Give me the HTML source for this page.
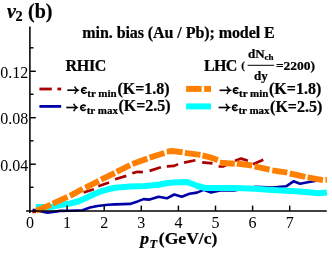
<!DOCTYPE html>
<html><head><meta charset="utf-8">
<style>
html,body{margin:0;padding:0;background:#fff;}
body{width:332px;height:253px;overflow:hidden;font-family:"Liberation Serif",serif;}
svg{display:block;position:absolute;left:0;top:0;will-change:transform;}
text{font-family:"Liberation Serif",serif;fill:#000;}
.b{font-weight:bold;stroke:#000;stroke-width:0.22px;}
</style></head><body>
<svg width="332" height="253" viewBox="0 0 332 253">
<rect width="332" height="253" fill="#fff"/>
<!-- curves -->
<g fill="none" stroke-linejoin="round">
<polyline stroke="#0000a8" stroke-width="2.6" points="32.5,209.9 40.0,211.3 47.6,212.6 55.0,211.7 60.0,210.9 70.0,210.7 82.5,210.2 90.0,207.5 97.5,206.0 108.0,204.8 115.0,204.4 130.0,203.9 137.6,201.4 143.6,199.1 149.6,199.6 158.7,196.8 166.8,198.3 174.3,194.5 181.8,196.7 189.4,193.8 196.9,192.6 203.7,189.9 211.0,192.5 220.0,190.5 234.0,190.5 256.0,186.8 272.6,187.5 286.1,186.3 293.5,181.3 300.0,183.8 307.6,182.3 313.6,181.3 321.0,179.8"/>
<g stroke="#a80000" stroke-width="2.7">
<polyline points="32.3,212.0 36.0,211.6"/>
<polyline points="83.6,192.5 93.9,189.3"/>
<polyline points="98.3,186.2 109.0,182.5"/>
<polyline points="115.1,179.2 126.3,175.9"/>
<polyline points="132.3,173.3 137.6,171.8 142.9,172.1"/>
<polyline points="149.6,170.9 160.9,167.3"/>
<polyline points="166.8,166.4 174.3,165.9 178.1,164.1"/>
<polyline points="184.1,162.6 195.4,160.3"/>
<polyline points="202.2,162.3 212.5,163.4"/>
<polyline points="218.6,166.3 223.0,166.5 230.0,163.0"/>
<polyline points="235.1,160.8 241.1,158.6 247.9,160.8"/>
<polyline points="253.0,164.3 263.3,159.8"/>
</g>
<polyline stroke="#00ffff" stroke-width="6" points="35.8,207.0 50.6,207.0 60.0,205.0 70.0,203.5 78.0,201.5 85.0,198.5 92.0,195.0 100.0,191.7 108.0,189.3 115.0,187.8 130.0,186.5 145.0,185.9 152.6,185.3 160.0,184.5 167.5,183.0 178.1,182.3 187.1,182.0 197.7,186.0 205.2,188.0 220.0,187.9 235.0,188.1 255.0,188.8 272.0,189.9 282.0,190.6 300.0,191.5 318.1,193.3 326.9,192.4"/>
<g stroke="#ff8000" stroke-width="5.9">
<polyline points="36.3,210.8 50.9,204.6"/>
<polyline points="52.8,203.7 67.5,196.8"/>
<polyline points="70.0,195.9 82.8,188.8"/>
<polyline points="85.4,187.6 98.9,181.0"/>
<polyline points="101.0,179.7 114.8,173.0"/>
<polyline points="116.6,171.8 130.1,165.2"/>
<polyline points="132.3,164.0 147.4,158.6"/>
<polyline points="149.6,157.6 164.4,153.0"/>
<polyline points="166.8,151.6 172.0,151.0 182.6,152.2"/>
<polyline points="184.8,152.8 200.4,154.9"/>
<polyline points="202.5,155.4 210.0,157.3 217.8,160.1"/>
<polyline points="219.8,162.7 234.8,163.8"/>
<polyline points="236.9,163.5 252.2,165.5"/>
<polyline points="254.5,166.3 269.6,169.6"/>
<polyline points="272.3,170.3 287.3,172.6"/>
<polyline points="289.8,173.5 305.3,176.8"/>
<polyline points="307.6,177.4 323.0,180.1"/>
<polyline points="325.4,179.9 326.9,179.8"/>
</g>
</g>
<!-- axes -->
<g stroke="#000" stroke-width="1.55" fill="none">
<line x1="29.9" y1="26.5" x2="29.9" y2="212.9"/>
<line x1="26.1" y1="210.9" x2="326.8" y2="210.9"/>
</g>
<g stroke="#000" stroke-width="1.45" fill="none">
<!-- y major -->
<line x1="30" y1="164.2" x2="35.8" y2="164.2"/>
<line x1="30" y1="117.7" x2="35.8" y2="117.7"/>
<line x1="30" y1="71.3" x2="35.8" y2="71.3"/>
<!-- y minor -->
<line x1="30" y1="187.3" x2="33.5" y2="187.3"/>
<line x1="30" y1="140.8" x2="33.5" y2="140.8"/>
<line x1="30" y1="94.3" x2="33.5" y2="94.3"/>
<line x1="30" y1="47.8" x2="33.5" y2="47.8"/>
<!-- x major -->
<line x1="67.1" y1="210.9" x2="67.1" y2="205.6"/>
<line x1="104.2" y1="210.9" x2="104.2" y2="205.6"/>
<line x1="141.3" y1="210.9" x2="141.3" y2="205.6"/>
<line x1="178.4" y1="210.9" x2="178.4" y2="205.6"/>
<line x1="215.5" y1="210.9" x2="215.5" y2="205.6"/>
<line x1="252.6" y1="210.9" x2="252.6" y2="205.6"/>
<line x1="289.7" y1="210.9" x2="289.7" y2="205.6"/>
</g>
<!-- tick labels -->
<g font-size="16" text-anchor="middle">
<text x="30.0" y="227.6">0</text>
<text x="67.1" y="227.6">1</text>
<text x="104.2" y="227.6">2</text>
<text x="141.3" y="227.6">3</text>
<text x="178.4" y="227.6">4</text>
<text x="215.5" y="227.6">5</text>
<text x="252.6" y="227.6">6</text>
<text x="289.7" y="227.6">7</text>
</g>
<g font-size="16" text-anchor="end">
<text x="28.2" y="77.6">0.12</text>
<text x="28.2" y="124.1">0.08</text>
<text x="28.2" y="170.6">0.04</text>
</g>
<!-- title -->
<text x="7" y="18" font-size="20" class="b"><tspan font-style="italic">v</tspan></text>
<text x="15.6" y="21.4" font-size="14.2" class="b">2</text>
<text x="28" y="18" font-size="20" class="b">(b)</text>
<text x="82.3" y="38.2" font-size="16" class="b" textLength="192.4" lengthAdjust="spacing">min. bias (Au / Pb); model E</text>
<text x="65.5" y="71.4" font-size="16" class="b" textLength="40.9" lengthAdjust="spacing">RHIC</text>
<text x="204.1" y="71.1" font-size="16" class="b" textLength="33.3" lengthAdjust="spacing">LHC</text>
<!-- LHC fraction -->
<text x="241.2" y="68.6" font-size="11" class="b">(</text>
<text x="248" y="58" font-size="13" class="b">dN</text>
<text x="264.6" y="60" font-size="9" class="b">ch</text>
<line x1="247.6" y1="65.3" x2="274.1" y2="65.3" stroke="#000" stroke-width="1"/>
<text x="254" y="79.5" font-size="13" class="b">dy</text>
<text x="275.9" y="69.7" font-size="13.5" class="b" textLength="39" lengthAdjust="spacing">=2200)</text>
<!-- legend lines -->
<line x1="39.4" y1="89" x2="51.8" y2="89" stroke="#a80000" stroke-width="2.8"/>
<line x1="57.4" y1="89" x2="61.2" y2="89" stroke="#a80000" stroke-width="2.8"/>
<line x1="39.4" y1="106.4" x2="61.2" y2="106.4" stroke="#0000a8" stroke-width="2.8"/>
<line x1="186.1" y1="88.9" x2="201.6" y2="88.9" stroke="#ff8000" stroke-width="6"/>
<line x1="204.2" y1="88.9" x2="211" y2="88.9" stroke="#ff8000" stroke-width="6"/>
<line x1="186.1" y1="106.4" x2="211" y2="106.4" stroke="#00ffff" stroke-width="6"/>
<!-- legend text -->
<g class="b">
<path d="M67.3,90.2H77.9" stroke="#000" stroke-width="1.65" fill="none"/><path d="M79.2,90.2C77.5,89.7 76.1,88.5 75.2,86.5L74.4,86.9C75.2,88.4 75.8,89.3 76.6,90.2C75.8,91.1 75.2,92.0 74.4,93.5L75.2,93.9C76.1,91.9 77.5,90.7 79.2,90.2Z" fill="#000" stroke="#000" stroke-width="0.6" stroke-linejoin="round"/>
<path d="M86.5,88.8C85.6,87.8 84.1,87.5 82.9,88.2C81.2,89.2 81.2,91.8 82.9,92.7C84.1,93.4 85.6,93.1 86.6,92.0" stroke="#000" stroke-width="1.7" fill="none"/><path d="M82.2,90.4H85.2" stroke="#000" stroke-width="1.3" fill="none"/>
<text x="87.3" y="96.5" font-size="11" textLength="29.4" lengthAdjust="spacing">tr min</text>
<text x="117.4" y="93.5" font-size="16">(K=1.8)</text>
<path d="M66.3,107.5H76.9" stroke="#000" stroke-width="1.65" fill="none"/><path d="M78.2,107.5C76.5,107.0 75.1,105.8 74.2,103.8L73.4,104.2C74.2,105.7 74.8,106.6 75.6,107.5C74.8,108.4 74.2,109.3 73.4,110.8L74.2,111.2C75.1,109.2 76.5,108.0 78.2,107.5Z" fill="#000" stroke="#000" stroke-width="0.6" stroke-linejoin="round"/>
<path d="M85.6,106.1C84.7,105.1 83.2,104.8 82.0,105.5C80.3,106.5 80.3,109.1 82.0,110.0C83.2,110.7 84.7,110.4 85.7,109.3" stroke="#000" stroke-width="1.7" fill="none"/><path d="M81.3,107.7H84.3" stroke="#000" stroke-width="1.3" fill="none"/>
<text x="86.7" y="113.7" font-size="11" textLength="31.2" lengthAdjust="spacing">tr max</text>
<text x="118.4" y="111.1" font-size="16">(K=2.5)</text>
<path d="M219.6,90.3H230.2" stroke="#000" stroke-width="1.65" fill="none"/><path d="M231.5,90.3C229.8,89.8 228.4,88.6 227.5,86.6L226.7,87.0C227.5,88.5 228.1,89.4 228.9,90.3C228.1,91.2 227.5,92.1 226.7,93.6L227.5,94.0C228.4,92.0 229.8,90.8 231.5,90.3Z" fill="#000" stroke="#000" stroke-width="0.6" stroke-linejoin="round"/>
<path d="M238.3,88.9C237.4,87.9 235.9,87.6 234.7,88.3C233.0,89.3 233.0,91.9 234.7,92.8C235.9,93.5 237.4,93.2 238.4,92.1" stroke="#000" stroke-width="1.7" fill="none"/><path d="M234.0,90.5H237.0" stroke="#000" stroke-width="1.3" fill="none"/>
<text x="239.0" y="96.6" font-size="11" textLength="29.4" lengthAdjust="spacing">tr min</text>
<text x="269.0" y="94.4" font-size="16">(K=1.8)</text>
<path d="M218.6,107.5H229.2" stroke="#000" stroke-width="1.65" fill="none"/><path d="M230.5,107.5C228.8,107.0 227.4,105.8 226.5,103.8L225.7,104.2C226.5,105.7 227.1,106.6 227.9,107.5C227.1,108.4 226.5,109.3 225.7,110.8L226.5,111.2C227.4,109.2 228.8,108.0 230.5,107.5Z" fill="#000" stroke="#000" stroke-width="0.6" stroke-linejoin="round"/>
<path d="M237.4,106.1C236.5,105.1 235.0,104.8 233.8,105.5C232.1,106.5 232.1,109.1 233.8,110.0C235.0,110.7 236.5,110.4 237.5,109.3" stroke="#000" stroke-width="1.7" fill="none"/><path d="M233.1,107.7H236.1" stroke="#000" stroke-width="1.3" fill="none"/>
<text x="238.4" y="113.7" font-size="11" textLength="31.2" lengthAdjust="spacing">tr max</text>
<text x="270.1" y="112.0" font-size="16">(K=2.5)</text>
</g>
<!-- x axis label -->
<text x="140.3" y="244.4" font-size="17.6" class="b" font-style="italic">p</text>
<text x="149.4" y="248" font-size="12.5" class="b" font-style="italic">T</text>
<text x="158.8" y="244.4" font-size="17.6" class="b" textLength="58.6" lengthAdjust="spacing">(GeV/c)</text>
</svg>
</body></html>
